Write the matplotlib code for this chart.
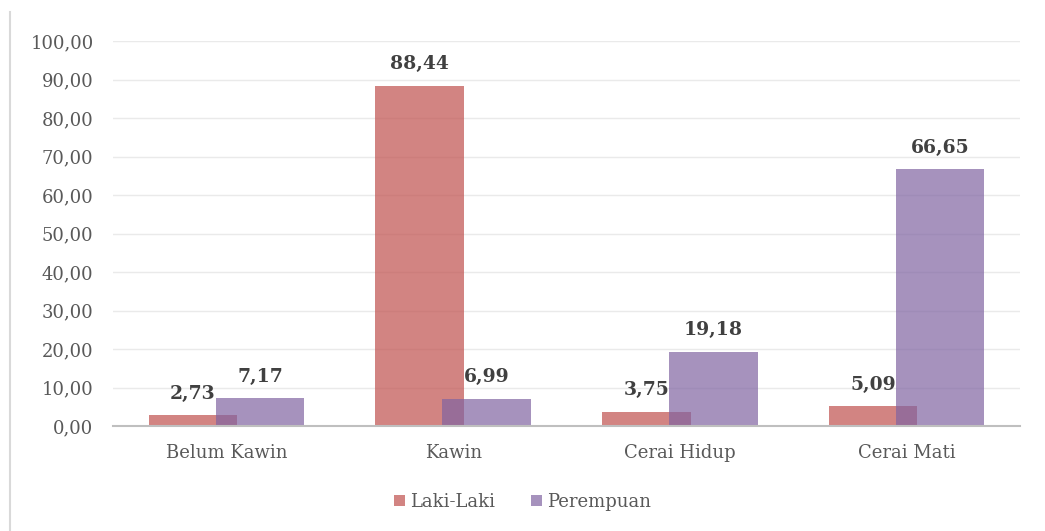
import matplotlib
matplotlib.use("Agg")
import matplotlib.pyplot as plt
import numpy as np

categories = ["Belum Kawin", "Kawin", "Cerai Hidup", "Cerai Mati"]
laki = [2.73, 88.44, 3.75, 5.09]
perempuan = [7.17, 6.99, 19.18, 66.65]
yticks = [0, 10, 20, 30, 40, 50, 60, 70, 80, 90, 100]

plt.rcParams.update({
    "font.family": ["DejaVu Serif"],
    "font.size": 13,
})


def fmt(v):
    return f"{v:.2f}".replace(".", ",")


fig = plt.figure(figsize=(10.45, 5.31), dpi=100)
ax = fig.add_axes([113 / 1045, 1 - 426 / 531, 907 / 1045, 385 / 531])

x = np.arange(len(categories))
w = 0.39
off = 0.148
b1 = ax.bar(x - off, laki, width=w, color="#C0504D", alpha=0.7, zorder=2,
            label="Laki-Laki")
b2 = ax.bar(x + off, perempuan, width=w, color="#8064A2", alpha=0.7, zorder=3,
            label="Perempuan")

for xi, v in zip(x - off, laki):
    ax.text(xi, v + 3.3, fmt(v), ha="center", va="bottom", fontsize=13.5,
            fontweight="bold", color="#404040", zorder=4)
for xi, v in zip(x + off, perempuan):
    ax.text(xi, v + 3.3, fmt(v), ha="center", va="bottom", fontsize=13.5,
            fontweight="bold", color="#404040", zorder=4)

ax.set_xlim(-0.5, len(categories) - 0.5)
ax.set_ylim(0, 100)
ax.set_yticks(yticks)
ax.set_yticklabels([fmt(t) for t in yticks], color="#595959", fontsize=13)
ax.set_xticks(x)
ax.set_xticklabels(categories, color="#595959", fontsize=13)
ax.tick_params(axis="y", length=0, pad=14)
ax.tick_params(axis="x", length=0, pad=13)
ax.grid(axis="y", color="#EAEAEA", linewidth=1, zorder=0)
for s in ["top", "right", "left"]:
    ax.spines[s].set_visible(False)
ax.spines["bottom"].set_color("#BFBFBF")
ax.spines["bottom"].set_linewidth(1.5)
ax.spines["bottom"].set_zorder(5)

leg = fig.legend(handles=[b1, b2], loc="center", bbox_to_anchor=(0.5, 1 - 502 / 531),
                 ncol=2, frameon=False, fontsize=13, handlelength=0.6,
                 handleheight=0.6, handletextpad=0.3, columnspacing=2.0)
for t in leg.get_texts():
    t.set_color("#595959")

# left border of the chart frame
fig.add_artist(plt.Line2D([10 / 1045, 10 / 1045], [0, 1 - 12 / 531],
                          transform=fig.transFigure, color="#D9D9D9", linewidth=1.5))

fig.savefig("out.png", dpi=100)
